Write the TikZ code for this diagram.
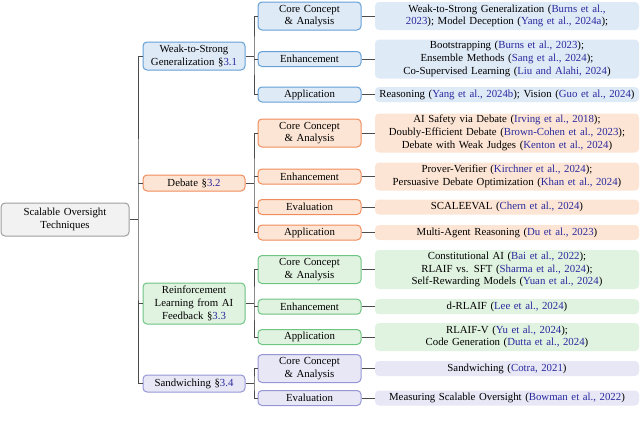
\documentclass[tikz,border=0pt]{standalone}
\usepackage{fontspec}
\setmainfont{Liberation Serif}
\usepackage{xcolor}
\usetikzlibrary{positioning}
\definecolor{citeblue}{rgb}{0.16,0.16,0.62}
\definecolor{linkgray}{gray}{0.3}
\definecolor{rootline}{gray}{0.62}
\definecolor{rootfill}{gray}{0.95}
\definecolor{wtsline}{RGB}{100,160,214}
\definecolor{wtsfill}{RGB}{223,234,247}
\definecolor{debline}{RGB}{240,140,92}
\definecolor{debfill}{RGB}{252,229,212}
\definecolor{rlline}{RGB}{110,196,130}
\definecolor{rlfill}{RGB}{224,242,224}
\definecolor{sandline}{RGB}{150,150,214}
\definecolor{sandfill}{RGB}{231,231,246}
\tikzstyle{branch} = [draw, rounded corners=4pt, line width=1pt, align=center, inner xsep=2pt, inner ysep=1pt]
\tikzstyle{rootbox} = [branch, draw=rootline, fill=rootfill, text width=124pt, minimum height=33pt]
\tikzstyle{topic} = [branch, text width=98pt]
\tikzstyle{aspect} = [branch, text width=99pt]
\tikzstyle{works} = [rounded corners=4pt, align=center, text width=260pt, inner xsep=2pt, inner ysep=1pt]
\tikzstyle{oneline} = [minimum height=15pt]
\tikzstyle{twoline} = [minimum height=28pt]
\tikzstyle{threeline} = [minimum height=39pt]
\tikzstyle{wts} = [draw=wtsline, fill=wtsfill]
\tikzstyle{deb} = [draw=debline, fill=debfill]
\tikzstyle{rl} = [draw=rlline, fill=rlfill]
\tikzstyle{sand} = [draw=sandline, fill=sandfill]
\tikzstyle{link} = [draw=linkgray, line width=0.8pt]
\newcommand{\cit}[1]{\textcolor{citeblue}{#1}}

\begin{document}
\begin{tikzpicture}[x=1pt, y=-1pt, font=\fontsize{10.8}{12.7}\selectfont]
\useasboundingbox (0,0) rectangle (640,426);

\node (Root) [rootbox] at (65, 219.5) {Scalable Oversight\\Techniques};

\node (WTS) [topic, wts, minimum height=28pt] at (194, 56) {Weak-to-Strong\\Generalization §\cit{3.1}};
\node (Debate) [topic, deb, minimum height=16pt] at (194, 183) {Debate §\cit{3.2}};
\node (RLAIF) [topic, rl, minimum height=41pt] at (194, 303.5) {Reinforcement\\Learning from AI\\Feedback §\cit{3.3}};
\node (Sand) [topic, sand, minimum height=17pt] at (194, 383.5) {Sandwiching §\cit{3.4}};

\node (WTSCore) [aspect, wts, twoline] at (309.5, 16) {Core Concept\\\& Analysis};
\node (WTSEnh) [aspect, wts, oneline] at (309.5, 59) {Enhancement};
\node (WTSApp) [aspect, wts, oneline] at (309.5, 94.5) {Application};

\node (DebCore) [aspect, deb, twoline] at (309.5, 133) {Core Concept\\\& Analysis};
\node (DebEnh) [aspect, deb, oneline] at (309.5, 176.5) {Enhancement};
\node (DebEval) [aspect, deb, oneline] at (309.5, 207) {Evaluation};
\node (DebApp) [aspect, deb, oneline] at (309.5, 232.5) {Application};

\node (RLCore) [aspect, rl, twoline] at (309.5, 269.5) {Core Concept\\\& Analysis};
\node (RLEnh) [aspect, rl, oneline] at (309.5, 306.7) {Enhancement};
\node (RLApp) [aspect, rl, oneline] at (309.5, 337) {Application};

\node (SandCore) [aspect, sand, twoline] at (309.5, 368.5) {Core Concept\\\& Analysis};
\node (SandEval) [aspect, sand, oneline] at (309.5, 398) {Evaluation};

\node (WTSCoreRef) [works, fill=wtsfill, twoline] at (507, 16) {Weak-to-Strong Generalization (\cit{Burns et al.,}\\\cit{2023}); Model Deception (\cit{Yang et al., 2024a});};
\node (WTSEnhRef) [works, fill=wtsfill, threeline] at (507, 59) {Bootstrapping (\cit{Burns et al., 2023});\\Ensemble Methods (\cit{Sang et al., 2024});\\Co-Supervised Learning (\cit{Liu and Alahi, 2024})};
\node (WTSAppRef) [works, fill=wtsfill, oneline] at (507, 94.5) {Reasoning (\cit{Yang et al., 2024b}); Vision (\cit{Guo et al., 2024})};

\node (DebCoreRef) [works, fill=debfill, threeline] at (507, 133) {AI Safety via Debate (\cit{Irving et al., 2018});\\Doubly-Efficient Debate (\cit{Brown-Cohen et al., 2023});\\Debate with Weak Judges (\cit{Kenton et al., 2024})};
\node (DebEnhRef) [works, fill=debfill, twoline] at (507, 176.5) {Prover-Verifier (\cit{Kirchner et al., 2024});\\Persuasive Debate Optimization (\cit{Khan et al., 2024})};
\node (DebEvalRef) [works, fill=debfill, oneline] at (507, 207) {SCALEEVAL (\cit{Chern et al., 2024})};
\node (DebAppRef) [works, fill=debfill, oneline] at (507, 232.5) {Multi-Agent Reasoning (\cit{Du et al., 2023})};

\node (RLCoreRef) [works, fill=rlfill, threeline] at (507, 269.5) {Constitutional AI (\cit{Bai et al., 2022});\\RLAIF vs. SFT (\cit{Sharma et al., 2024});\\Self-Rewarding Models (\cit{Yuan et al., 2024})};
\node (RLEnhRef) [works, fill=rlfill, oneline] at (507, 306.7) {d-RLAIF (\cit{Lee et al., 2024})};
\node (RLAppRef) [works, fill=rlfill, twoline] at (507, 337) {RLAIF-V (\cit{Yu et al., 2024});\\Code Generation (\cit{Dutta et al., 2024})};

\node (SandCoreRef) [works, fill=sandfill, oneline] at (507, 368.5) {Sandwiching (\cit{Cotra, 2021})};
\node (SandEvalRef) [works, fill=sandfill, oneline] at (507, 398) {Measuring Scalable Oversight (\cit{Bowman et al., 2022})};

\coordinate (RootBus) at (138, 219.5);
\coordinate (WTSBus) at (254, 56);
\coordinate (DebBus) at (254, 183);
\coordinate (RLBus) at (254, 303.5);
\coordinate (SandBus) at (254, 383.5);

\draw [link] (Root) -- (RootBus);
\draw [link] (WTS) -| (RootBus) |- (Sand);
\draw [link] (RootBus |- Debate) -- (Debate);
\draw [link] (RootBus |- RLAIF) -- (RLAIF);

\draw [link] (WTS) -- (WTSBus);
\draw [link] (WTSCore) -| (WTSBus) |- (WTSApp);
\draw [link] (WTSBus |- WTSEnh) -- (WTSEnh);

\draw [link] (Debate) -- (DebBus);
\draw [link] (DebCore) -| (DebBus) |- (DebApp);
\draw [link] (DebBus |- DebEnh) -- (DebEnh);
\draw [link] (DebBus |- DebEval) -- (DebEval);

\draw [link] (RLAIF) -- (RLBus);
\draw [link] (RLCore) -| (RLBus) |- (RLApp);
\draw [link] (RLBus |- RLEnh) -- (RLEnh);

\draw [link] (Sand) -- (SandBus);
\draw [link] (SandCore) -| (SandBus) |- (SandEval);

\draw [link] (WTSCore) -- (WTSCoreRef);
\draw [link] (WTSEnh) -- (WTSEnhRef);
\draw [link] (WTSApp) -- (WTSAppRef);
\draw [link] (DebCore) -- (DebCoreRef);
\draw [link] (DebEnh) -- (DebEnhRef);
\draw [link] (DebEval) -- (DebEvalRef);
\draw [link] (DebApp) -- (DebAppRef);
\draw [link] (RLCore) -- (RLCoreRef);
\draw [link] (RLEnh) -- (RLEnhRef);
\draw [link] (RLApp) -- (RLAppRef);
\draw [link] (SandCore) -- (SandCoreRef);
\draw [link] (SandEval) -- (SandEvalRef);

\end{tikzpicture}
\end{document}
